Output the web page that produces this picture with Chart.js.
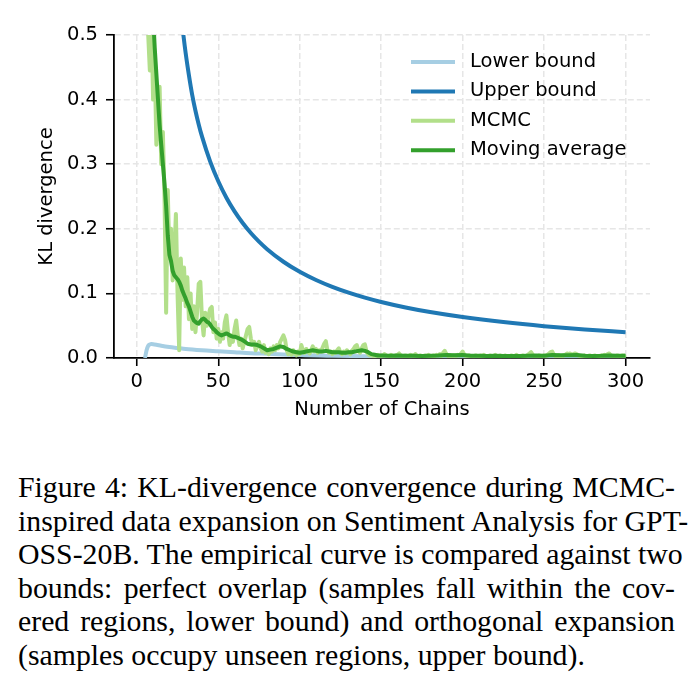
<!DOCTYPE html>
<html>
<head>
<meta charset="utf-8">
<script src="https://cdn.jsdelivr.net/npm/chart.js@4.4.1/dist/chart.umd.min.js"></script>
<style>
    body { margin: 0; background: #fff; width: 692px; height: 698px; overflow: hidden; }
    #wrap { position: absolute; left: 0; top: 0; width: 692px; height: 430px; }
    #caption {
        position: absolute; left: 18px; top: 470px; width: 657px;
        font-family: "Liberation Serif", "Times New Roman", serif;
        font-size: 29.8px; line-height: 33.6px; color: #000;
    }
    #caption div { text-align: justify; text-align-last: justify; white-space: nowrap; }
    #caption div.last { text-align: left; text-align-last: left; }
</style>
</head>
<body>
<div id="wrap"><canvas id="grafico" width="692" height="430"></canvas></div>
<div id="caption">
    <div>Figure 4: KL-divergence convergence during MCMC-</div>
    <div>inspired data expansion on Sentiment Analysis for GPT-</div>
    <div>OSS-20B. The empirical curve is compared against two</div>
    <div>bounds: perfect overlap (samples fall within the cov-</div>
    <div>ered regions, lower bound) and orthogonal expansion</div>
    <div class="last">(samples occupy unseen regions, upper bound).</div>
</div>
<script>
// tick positions
const xTicks = [0, 50, 100, 150, 200, 250, 300];
const yTicks = [0, 0.1, 0.2, 0.3, 0.4, 0.5];

// bounds
const upperChains = [26, 28, 30, 32, 34, 36, 38, 40, 45, 50, 55, 60, 65, 70, 75, 80, 90, 100,
    110, 120, 130, 140, 150, 165, 180, 200, 225, 250, 275, 300];
const upperValues = [0.558, 0.5125, 0.4717, 0.4375, 0.4074, 0.3828, 0.3616, 0.343, 0.3044, 0.2736, 0.2481, 0.2269, 0.2089, 0.1935, 0.1802, 0.1685, 0.149, 0.1334,
    0.1207, 0.1101, 0.1011, 0.0934, 0.0867, 0.0782, 0.0711, 0.0634, 0.0556, 0.0493, 0.0442, 0.040];

const lowerChains = [5, 6, 7, 8, 9, 10, 12, 15, 20, 25, 30, 40, 50, 60, 70, 80, 90, 100, 120, 150, 200, 250, 300];
const lowerValues = [0, 0.012, 0.019, 0.021, 0.0215, 0.0213, 0.0205, 0.019, 0.017, 0.0155, 0.014, 0.012, 0.0105, 0.009, 0.0075, 0.0065, 0.0055, 0.0045, 0.0035, 0.0025, 0.0017, 0.0012, 0.001];

// MCMC, one value per chain (1..300)
const mcmcValues = [
    0.98, 0.91, 0.84, 0.76, 0.69, 0.60, 0.50, 0.445, 0.52, 0.40,
    0.46, 0.33, 0.36, 0.42, 0.30, 0.35, 0.25, 0.07, 0.26, 0.155,
    0.20, 0.12, 0.16, 0.223, 0.10, 0.012, 0.154, 0.09, 0.14, 0.08,
    0.125, 0.06, 0.10, 0.045, 0.08, 0.04, 0.07, 0.115, 0.118, 0.06,
    0.035, 0.07, 0.05, 0.065, 0.076, 0.079, 0.04, 0.055, 0.03, 0.045,
    0.025, 0.04, 0.03, 0.055, 0.066, 0.04, 0.02, 0.035, 0.025, 0.045,
    0.058, 0.035, 0.02, 0.03, 0.015, 0.025, 0.035, 0.045, 0.048, 0.03,
    0.02, 0.025, 0.012, 0.02, 0.025, 0.015, 0.01, 0.02, 0.008, 0.012,
    0.006, 0.015, 0.01, 0.018, 0.012, 0.02, 0.015, 0.025, 0.03, 0.035,
    0.028, 0.012, 0.006, 0.01, 0.005, 0.012, 0.008, 0.004, 0.01, 0.006,
    0.02, 0.012, 0.008, 0.014, 0.01, 0.007, 0.012, 0.018, 0.01, 0.014,
    0.008, 0.012, 0.01, 0.016, 0.022, 0.026, 0.012, 0.008, 0.01, 0.006,
    0.01, 0.008, 0.012, 0.015, 0.008, 0.006, 0.01, 0.007, 0.012, 0.009,
    0.006, 0.011, 0.014, 0.018, 0.02, 0.012, 0.008, 0.015, 0.02, 0.021,
    0.01, 0.006, 0.004, 0.005, 0.003, 0.004, 0.003, 0.005, 0.002, 0.004,
    0.003, 0.006, 0.004, 0.002, 0.003, 0.005, 0.003, 0.002, 0.004, 0.005,
    0.007, 0.004, 0.002, 0.003, 0.004, 0.002, 0.003, 0.005, 0.004, 0.003,
    0.006, 0.003, 0.002, 0.004, 0.003, 0.002, 0.004, 0.003, 0.005, 0.003,
    0.002, 0.004, 0.003, 0.005, 0.004, 0.006, 0.003, 0.008, 0.011, 0.006,
    0.003, 0.004, 0.002, 0.003, 0.004, 0.003, 0.005, 0.004, 0.007, 0.010,
    0.005, 0.003, 0.002, 0.004, 0.003, 0.002, 0.003, 0.004, 0.003, 0.002,
    0.004, 0.003, 0.005, 0.003, 0.002, 0.003, 0.004, 0.002, 0.003, 0.005,
    0.003, 0.002, 0.004, 0.003, 0.002, 0.004, 0.003, 0.002, 0.003, 0.004,
    0.002, 0.003, 0.005, 0.003, 0.002, 0.003, 0.004, 0.002, 0.003, 0.005,
    0.007, 0.009, 0.005, 0.003, 0.002, 0.003, 0.004, 0.002, 0.003, 0.004,
    0.003, 0.005, 0.007, 0.009, 0.010, 0.005, 0.003, 0.002, 0.004, 0.003,
    0.002, 0.004, 0.005, 0.007, 0.006, 0.007, 0.005, 0.006, 0.007, 0.006,
    0.004, 0.003, 0.002, 0.003, 0.004, 0.002, 0.003, 0.004, 0.003, 0.002,
    0.004, 0.003, 0.002, 0.003, 0.004, 0.003, 0.005, 0.004, 0.006, 0.007,
    0.004, 0.003, 0.002, 0.003, 0.004, 0.003, 0.002, 0.004, 0.003, 0.005
];

// moving average
const maChains = [10, 11, 12, 13, 14, 15, 16, 17, 18, 19, 20, 21, 22, 23, 24, 25, 26, 27, 28, 29,
    30, 31, 32, 33, 34, 35, 36, 37, 38, 39, 40, 41, 42, 43, 44, 45, 46, 47, 48, 49,
    50, 51, 52, 53, 54, 55, 56, 57, 58, 59, 60, 62, 64, 66, 68, 70, 72, 74, 76, 78,
    80, 82, 84, 86, 88, 90, 92, 94, 96, 98, 100, 102, 104, 106, 108, 110, 112, 114, 116, 118,
    120, 122, 124, 126, 128, 130, 132, 134, 136, 138, 140, 142, 144, 146, 148, 150,
    155, 160, 165, 170, 175, 180, 185, 190, 195, 200, 205, 210, 215, 220, 225, 230,
    235, 240, 245, 250, 255, 260, 265, 270, 275, 280, 285, 290, 295, 300];
const maValues = [0.53, 0.48, 0.44, 0.40, 0.36, 0.33, 0.30, 0.27, 0.235, 0.19, 0.16, 0.15, 0.135, 0.128, 0.125, 0.122, 0.118, 0.112, 0.104, 0.098,
    0.092, 0.085, 0.08, 0.072, 0.064, 0.058, 0.056, 0.054, 0.053, 0.057, 0.06, 0.061, 0.059, 0.056, 0.055, 0.052, 0.048, 0.045, 0.043, 0.040,
    0.038, 0.036, 0.035, 0.036, 0.037, 0.038, 0.037, 0.035, 0.034, 0.033, 0.033, 0.031, 0.029, 0.026, 0.022, 0.021, 0.021, 0.020, 0.018, 0.015,
    0.012, 0.013, 0.014, 0.016, 0.018, 0.017, 0.014, 0.012, 0.010, 0.009, 0.008, 0.009, 0.010, 0.011, 0.012, 0.011, 0.010, 0.010, 0.011, 0.010,
    0.009, 0.009, 0.009, 0.008, 0.008, 0.009, 0.009, 0.010, 0.011, 0.012, 0.011, 0.009, 0.006, 0.005, 0.004, 0.004,
    0.0035, 0.0038, 0.0034, 0.0036, 0.0032, 0.0034, 0.0038, 0.0045, 0.0042, 0.0045, 0.0036, 0.0033, 0.0032, 0.0033, 0.0031, 0.0032,
    0.0031, 0.0035, 0.0038, 0.0036, 0.0045, 0.0042, 0.0044, 0.0046, 0.0034, 0.0031, 0.0033, 0.0038, 0.0033, 0.0034];

const toPoints = (xs, ys) => xs.map((x, i) => ({ x: x, y: ys[i] }));
const mcmcPoints = mcmcValues.map((v, i) => ({ x: i + 1, y: v }));

Chart.defaults.font.family = '"DejaVu Sans", sans-serif';
Chart.defaults.font.size = 19.5;
Chart.defaults.color = '#000';

// legend drawn like matplotlib's: one entry per row, no frame
const legendaLateral = {
    id: 'legendaLateral',
    afterDraw(chart) {
        const ctx = chart.ctx;
        const area = chart.chartArea;
        const x0 = area.right - 239;
        ctx.save();
        ctx.font = '19.5px "DejaVu Sans"';
        ctx.textBaseline = 'middle';
        chart.data.datasets.forEach((ds, i) => {
            const y = area.top + 27 + i * 29.4;
            ctx.strokeStyle = ds.borderColor;
            ctx.lineWidth = 4;
            ctx.beginPath();
            ctx.moveTo(x0, y);
            ctx.lineTo(x0 + 44, y);
            ctx.stroke();
            ctx.fillStyle = '#000';
            ctx.fillText(ds.label, x0 + 59, y);
        });
        ctx.restore();
    }
};

const ctxGrafico = document.getElementById('grafico').getContext('2d');
const grafico = new Chart(ctxGrafico, {
    type: 'line',
    data: {
        datasets: [
            { label: 'Lower bound', data: toPoints(lowerChains, lowerValues), borderColor: '#a6cee3', borderWidth: 4, cubicInterpolationMode: 'monotone', order: 4 },
            { label: 'Upper bound', data: toPoints(upperChains, upperValues), borderColor: '#1f78b4', borderWidth: 4, cubicInterpolationMode: 'monotone', order: 3 },
            { label: 'MCMC', data: mcmcPoints, borderColor: '#b2df8a', borderWidth: 4, tension: 0, order: 2 },
            { label: 'Moving average', data: toPoints(maChains, maValues), borderColor: '#33a02c', borderWidth: 4, tension: 0, order: 1 }
        ]
    },
    options: {
        responsive: false,
        animation: false,
        clip: 0,
        elements: { point: { radius: 0 }, line: { borderJoinStyle: 'round', borderCapStyle: 'butt' } },
        layout: { padding: { top: 35, right: 42, left: 0, bottom: 0 } },
        plugins: { legend: { display: false }, tooltip: { enabled: false } },
        scales: {
            x: {
                type: 'linear',
                min: -14,
                max: 315,
                afterBuildTicks: s => { s.ticks = xTicks.map(v => ({ value: v })); },
                afterFit: s => { s.height = 72; },
                ticks: { padding: 4, maxRotation: 0 },
                grid: { color: '#e6e6e6', lineWidth: 1.5, tickColor: '#000', tickLength: 8, tickWidth: 1.6 },
                border: { color: '#000', width: 1.8, dash: [6, 3] },
                title: { display: true, text: 'Number of Chains', padding: { top: 0, bottom: 8 } }
            },
            y: {
                min: 0,
                max: 0.5,
                afterBuildTicks: s => { s.ticks = yTicks.map(v => ({ value: v })); },
                afterFit: s => { s.width = 114; },
                ticks: { padding: 8, callback: v => v.toFixed(1) },
                grid: { color: '#e6e6e6', lineWidth: 1.5, tickColor: '#000', tickLength: 8, tickWidth: 1.6 },
                border: { color: '#000', width: 1.8, dash: [6, 3] },
                title: { display: true, text: 'KL divergence', padding: { top: 35, bottom: 0 } }
            }
        }
    },
    plugins: [legendaLateral]
});
</script>
</body>
</html>
